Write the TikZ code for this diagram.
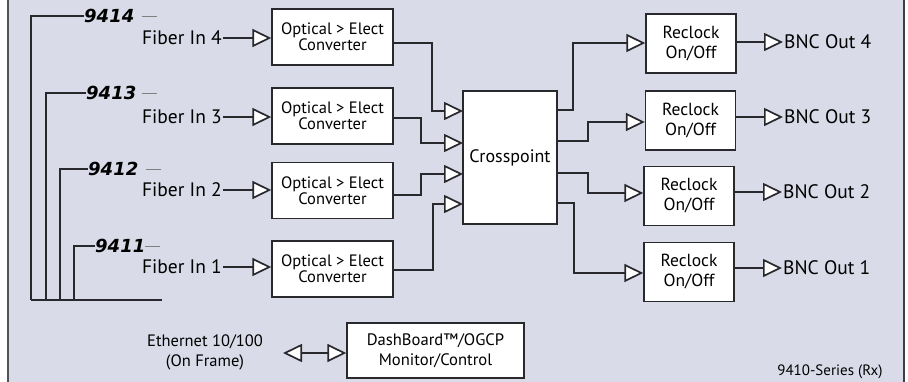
\documentclass[tikz,border=0pt]{standalone}
\usepackage{fontspec}
\setmainfont{PT Sans}
\newfontfamily\numfont{DejaVu Sans}
\usetikzlibrary{arrows.meta}
\definecolor{panel}{RGB}{217,219,232}
\definecolor{ln}{RGB}{40,40,45}
\tikzset{
  box/.style={draw=ln, line width=1.4pt, fill=white, inner sep=0pt, align=center},
  conv/.style={box, minimum width=121pt, minimum height=56pt, font=\fontsize{16.5}{16}\selectfont},
  rclk/.style={box, minimum width=90pt, minimum height=59pt, font=\fontsize{17.5}{20}\selectfont},
  lbl/.style={inner sep=1pt, font=\fontsize{19.5}{21}\selectfont},
  num/.style={inner sep=0pt, anchor=west, font=\numfont\fontsize{18}{20}\selectfont\bfseries\itshape},
  wire/.style={draw=ln, line width=1.4pt},
  tipa/.style={},
  arr/.style={wire, -{Triangle[length=19pt, width=18pt, fill=white, line width=1.7pt]}},
  dbl/.style={wire, {Triangle[length=19pt, width=18pt, fill=white, line width=1.7pt]}-{Triangle[length=19pt, width=18pt, fill=white, line width=1.7pt]}},
  bus/.style={draw=ln, line width=1.5pt},
}
\newcommand{\gdash}{\textcolor{gray}{\rule[5.5pt]{15pt}{1pt}}}
\begin{document}
\begin{tikzpicture}[x=1pt, y=-1pt]
\useasboundingbox (0,0) rectangle (908,381);
\fill[panel] (8,-2) rectangle (904,383);
\draw[draw=ln!80, line width=2pt] (8,-2) -- (8,383);
\draw[draw=ln!90, line width=2pt] (904,-2) -- (904,383);

% converter boxes
\node[conv] (c4) at (332.5,37) {Optical > Elect\\Converter};
\node[conv] (c3) at (332.5,116) {Optical > Elect\\Converter};
\node[conv] (c2) at (332.5,190.5) {Optical > Elect\\Converter};
\node[conv] (c1) at (332.5,269) {Optical > Elect\\Converter};

% crosspoint
\node[box, minimum width=94pt, minimum height=133pt, font=\fontsize{18}{18}\selectfont] (cp) at (510,157.5) {Crosspoint};

% reclock boxes
\node[rclk] (r4) at (691,43.5) {Reclock\\On/Off};
\node[rclk] (r3) at (690.5,120.5) {Reclock\\On/Off};
\node[rclk] (r2) at (689,196) {Reclock\\On/Off};
\node[rclk] (r1) at (689,272) {Reclock\\On/Off};

% fiber inputs
\node[lbl, anchor=east] (f4) at (223,38) {Fiber In 4};
\node[lbl, anchor=east] (f3) at (223,117) {Fiber In 3};
\node[lbl, anchor=east] (f2) at (223,190) {Fiber In 2};
\node[lbl, anchor=east] (f1) at (223,267) {Fiber In 1};
\draw[arr] (f4.east) -- (c4.west |- f4.east);
\draw[arr] (f3.east) -- (c3.west |- f3.east);
\draw[arr] (f2.east) -- (c2.west |- f2.east);
\draw[arr] (f1.east) -- (c1.west |- f1.east);

% numbers and bus
\node[num] (n4) at (84,16) {9414\hspace{8pt}\gdash};
\node[num] (n3) at (86,93) {9413\hspace{6pt}\gdash};
\node[num] (n2) at (88,169) {9412\hspace{8pt}\gdash};
\node[num] (n1) at (95,246) {9411\hspace{0pt}\gdash};
\coordinate (b4) at (31,300);
\coordinate (b3) at (46,300);
\coordinate (b2) at (60,300);
\coordinate (b1) at (74,300);
\coordinate (bend) at (162,300);
\draw[bus] (n4.west) -| (b4);
\draw[bus] (n3.west) -| (b3);
\draw[bus] (n2.west) -| (b2);
\draw[bus] (n1.west) -| (b1);
\draw[bus] (b4) -- (bend);

% converters to crosspoint
\coordinate (i4) at (463,111);
\coordinate (i3) at (463,143);
\coordinate (i2) at (463,174);
\coordinate (i1) at (463,204);
\draw[arr] (c4.east |- 0,43) -- (432,43) -- (432,111) -- (i4);
\draw[arr] (c3.east |- 0,118) -- (421,118) -- (421,143) -- (i3);
\draw[arr] (c2.east |- 0,195) -- (421,195) -- (421,174) -- (i2);
\draw[arr] (c1.east |- 0,270) -- (433,270) -- (433,204) -- (i1);

% crosspoint to reclock
\draw[arr] (cp.east |- 0,110) -- (573,110) -- (573,43) -- (r4.west |- 0,43);
\draw[arr] (cp.east |- 0,141) -- (588,141) -- (588,122) -- (r3.west |- 0,122);
\draw[arr] (cp.east |- 0,173) -- (588,173) -- (588,193) -- (r2.west |- 0,193);
\draw[arr] (cp.east |- 0,203) -- (574,203) -- (574,273) -- (r1.west |- 0,273);

% outputs
\node[lbl, anchor=west] (o4) at (783,42) {BNC Out 4};
\node[lbl, anchor=west] (o3) at (783,117) {BNC Out 3};
\node[lbl, anchor=west] (o2) at (782,192) {BNC Out 2};
\node[lbl, anchor=west] (o1) at (782,268) {BNC Out 1};
\draw[arr] (r4.east |- o4.west) -- (o4.west);
\draw[arr] (r3.east |- o3.west) -- (o3.west);
\draw[arr] (r2.east |- o2.west) -- (o2.west);
\draw[arr] (r1.east |- o1.west) -- (o1.west);

% bottom
\node[align=center, inner sep=0pt, font=\fontsize{16.5}{20}\selectfont] (eth) at (205,352) {Ethernet 10/100\\(On Frame)};
\node[box, minimum width=177pt, minimum height=55pt, font=\fontsize{16.6}{20}\selectfont] (db) at (435.5,350.5) {DashBoard™/OGCP\\Monitor/Control};
\coordinate (etip) at (283,353);
\draw[dbl] (etip) -- (db.west |- etip);
\node[inner sep=0pt, font=\fontsize{15}{16}\selectfont] (ser) at (830,372) {9410-Series (Rx)};
\end{tikzpicture}
\end{document}
